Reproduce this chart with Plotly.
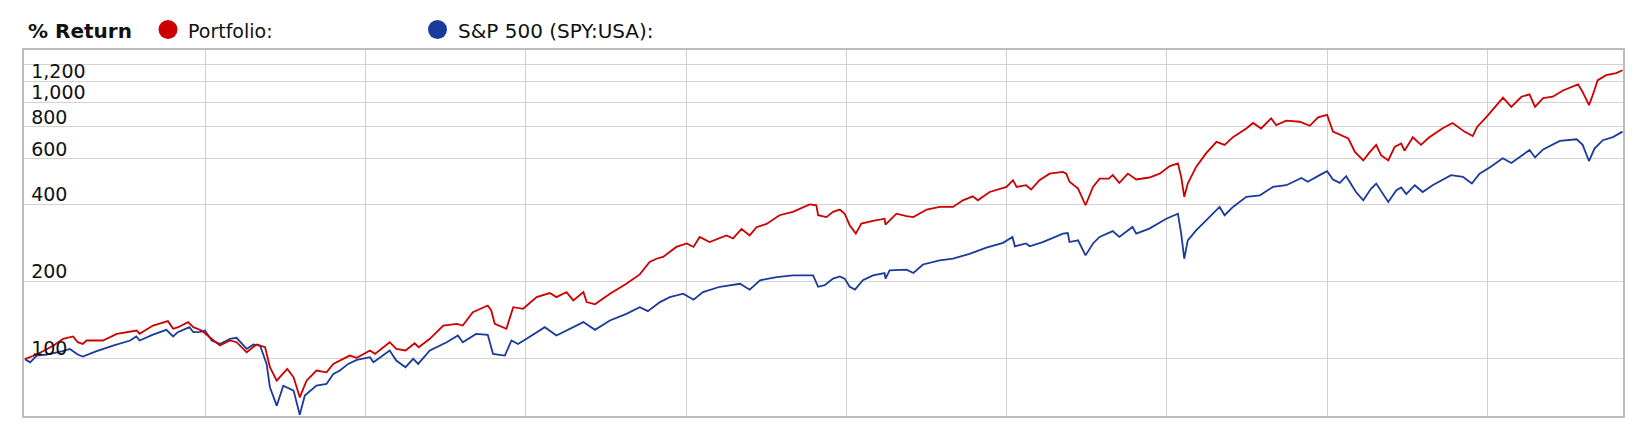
import plotly.graph_objects as go

# ---------------- data ----------------
spy_dates = [
    "2005-09-30", "2005-10-24", "2005-11-23", "2006-01-08", "2006-03-23", "2006-04-23", "2006-05-29",
    "2006-06-21", "2006-08-23", "2006-11-06", "2007-01-23", "2007-02-20", "2007-03-07", "2007-05-07",
    "2007-07-07", "2007-08-07", "2007-08-28", "2007-10-20", "2007-11-07", "2007-12-07", "2007-12-30",
    "2008-01-30", "2008-03-07", "2008-04-22", "2008-05-22", "2008-07-07", "2008-08-07", "2008-09-06",
    "2008-10-06", "2008-10-21", "2008-11-21", "2008-12-21", "2009-02-06", "2009-03-06", "2009-03-29",
    "2009-05-21", "2009-07-06", "2009-08-06", "2009-09-05", "2009-10-13", "2009-11-21", "2010-01-20",
    "2010-02-05", "2010-04-20", "2010-05-20", "2010-07-01", "2010-08-05", "2010-08-28", "2010-10-20",
    "2011-01-05", "2011-02-25", "2011-03-19", "2011-05-19", "2011-07-11", "2011-08-04", "2011-09-27",
    "2011-10-27", "2011-11-26", "2012-01-04", "2012-02-19", "2012-03-27", "2012-05-19", "2012-07-20",
    "2012-09-19", "2012-11-11", "2013-01-18", "2013-04-03", "2013-06-03", "2013-07-10", "2013-09-03",
    "2013-10-18", "2013-12-18", "2014-02-03", "2014-03-18", "2014-06-03", "2014-09-03", "2014-10-17",
    "2014-12-03", "2015-02-17", "2015-05-02", "2015-08-02", "2015-08-25", "2015-09-24", "2015-11-01",
    "2015-12-02", "2015-12-24", "2016-01-16", "2016-02-09", "2016-03-16", "2016-05-01", "2016-06-23",
    "2016-06-27", "2016-07-16", "2016-10-01", "2016-11-01", "2016-12-15", "2017-03-01", "2017-05-01",
    "2017-07-15", "2017-09-30", "2017-12-15", "2018-01-27", "2018-02-07", "2018-03-30", "2018-04-15",
    "2018-06-14", "2018-09-14", "2018-10-06", "2018-10-14", "2018-11-22", "2018-12-26", "2019-01-29",
    "2019-02-28", "2019-04-29", "2019-05-29", "2019-07-28", "2019-08-14", "2019-10-13", "2019-12-29",
    "2020-02-20", "2020-03-06", "2020-03-20", "2020-04-05", "2020-05-13", "2020-06-28", "2020-08-28",
    "2020-09-20", "2020-10-28", "2020-12-28", "2021-02-28", "2021-04-28", "2021-06-28", "2021-09-05",
    "2021-10-04", "2021-11-27", "2021-12-31", "2022-01-27", "2022-02-27", "2022-03-28", "2022-05-12",
    "2022-06-14", "2022-07-20", "2022-08-12", "2022-09-12", "2022-10-06", "2022-11-12", "2022-12-04",
    "2022-12-27", "2023-02-04", "2023-03-12", "2023-04-26", "2023-07-19", "2023-09-11", "2023-10-22",
    "2023-11-26", "2024-01-11", "2024-03-11", "2024-04-19", "2024-07-11", "2024-08-05", "2024-09-11",
    "2024-11-26", "2025-02-11", "2025-03-10", "2025-04-08", "2025-05-03", "2025-06-10", "2025-07-26",
    "2025-09-08",
]
spy_values = [
    99.5, 96.7, 102.7, 103.7, 106.8, 109.0, 103.7,
    101.8, 106.8, 112.4, 117.6, 121.9, 117.6, 124.0,
    129.4, 121.9, 126.7, 132.5, 126.7, 127.0, 128.6,
    117.6, 114.0, 119.4, 120.5, 109.0, 113.4, 112.4,
    95.3, 77.3, 65.5, 78.4, 75.0, 60.4, 71.7,
    78.4, 79.6, 87.1, 89.8, 95.3, 98.8, 101.2,
    96.7, 107.5, 98.2, 92.5, 99.7, 95.3, 107.5,
    115.8, 123.0, 115.8, 124.8, 123.7, 104.3, 102.7,
    117.6, 114.0, 119.4, 126.7, 132.5, 123.0, 130.6,
    138.7, 129.4, 140.7, 149.4, 158.6, 153.0, 166.0,
    173.6, 179.0, 169.5, 181.6, 190.5, 195.7, 185.6,
    201.9, 207.9, 211.0, 211.0, 190.5, 193.1, 205.0,
    209.0, 205.0, 190.5, 185.6, 201.9, 211.0, 215.5,
    205.0, 220.6, 222.0, 215.5, 232.7, 241.6, 245.0,
    256.0, 270.8, 282.5, 297.7, 273.9, 280.9, 274.0,
    284.6, 307.0, 308.5, 284.6, 289.0, 252.5, 281.0,
    298.0, 314.0, 298.0, 326.0, 307.0, 321.0, 351.0,
    367.0, 307.0, 245.0, 289.0, 316.0, 346.0, 390.0,
    362.0, 390.0, 427.0, 433.0, 467.0, 474.0, 506.0,
    489.0, 519.0, 538.0, 499.0, 484.0, 514.0, 446.0,
    414.0, 460.0, 481.0, 440.0, 408.0, 453.0, 465.0,
    438.0, 474.0, 446.0, 474.0, 519.0, 511.0, 481.0,
    526.0, 556.0, 604.0, 579.0, 650.0, 608.0, 654.0,
    706.0, 716.0, 681.0, 589.0, 659.0, 710.0, 730.0,
    767.0,
]

portfolio_dates = [
    "2005-09-30", "2005-11-23", "2006-02-08", "2006-03-23", "2006-05-08", "2006-05-29", "2006-06-21",
    "2006-07-08", "2006-09-21", "2006-11-23", "2007-02-22", "2007-03-07", "2007-05-07", "2007-07-14",
    "2007-08-07", "2007-08-30", "2007-10-14", "2007-11-07", "2007-12-14", "2008-01-30", "2008-03-07",
    "2008-04-22", "2008-05-22", "2008-07-07", "2008-08-21", "2008-09-29", "2008-10-21", "2008-11-21",
    "2009-01-08", "2009-02-06", "2009-03-06", "2009-04-06", "2009-05-21", "2009-07-06", "2009-08-06",
    "2009-09-20", "2009-10-20", "2009-11-21", "2010-01-20", "2010-02-12", "2010-04-20", "2010-05-20",
    "2010-07-01", "2010-08-12", "2010-08-30", "2010-10-20", "2010-12-20", "2011-02-20", "2011-03-19",
    "2011-05-04", "2011-07-11", "2011-07-27", "2011-08-12", "2011-10-04", "2011-11-04", "2011-12-19",
    "2012-02-19", "2012-04-19", "2012-05-19", "2012-07-04", "2012-08-04", "2012-09-19", "2012-10-04",
    "2012-11-11", "2013-01-18", "2013-04-03", "2013-06-03", "2013-07-18", "2013-08-18", "2013-09-17",
    "2013-10-18", "2013-11-17", "2014-01-03", "2014-02-03", "2014-03-03", "2014-04-17", "2014-07-03",
    "2014-08-02", "2014-09-10", "2014-10-17", "2014-11-17", "2015-01-02", "2015-03-02", "2015-05-02",
    "2015-07-17", "2015-08-17", "2015-08-25", "2015-10-02", "2015-11-01", "2015-12-02", "2015-12-24",
    "2016-01-16", "2016-02-13", "2016-03-09", "2016-05-01", "2016-06-23", "2016-06-27", "2016-08-16",
    "2016-10-01", "2016-11-01", "2017-01-01", "2017-03-01", "2017-05-01", "2017-06-15", "2017-07-30",
    "2017-08-22", "2017-10-15", "2017-12-31", "2018-01-29", "2018-02-15", "2018-03-30", "2018-04-22",
    "2018-05-30", "2018-07-15", "2018-09-14", "2018-09-29", "2018-10-14", "2018-11-22", "2018-12-26",
    "2019-01-29", "2019-02-28", "2019-04-11", "2019-04-29", "2019-05-29", "2019-07-07", "2019-08-14",
    "2019-10-13", "2019-11-29", "2020-01-14", "2020-02-20", "2020-03-06", "2020-03-20", "2020-04-05",
    "2020-05-13", "2020-06-28", "2020-08-14", "2020-09-20", "2020-10-28", "2020-12-28", "2021-01-28",
    "2021-03-05", "2021-04-20", "2021-05-13", "2021-06-28", "2021-08-28", "2021-10-13", "2021-11-20",
    "2021-12-31", "2022-01-27", "2022-02-27", "2022-04-07", "2022-05-07", "2022-06-14", "2022-07-10",
    "2022-08-12", "2022-09-03", "2022-10-06", "2022-11-04", "2022-12-04", "2022-12-19", "2023-01-26",
    "2023-03-04", "2023-04-11", "2023-06-11", "2023-07-26", "2023-09-18", "2023-10-26", "2023-11-15",
    "2023-12-28", "2024-02-12", "2024-03-12", "2024-04-19", "2024-06-04", "2024-07-11", "2024-08-05",
    "2024-09-11", "2024-10-25", "2024-12-10", "2025-02-17", "2025-03-10", "2025-04-08", "2025-04-25",
    "2025-05-17", "2025-06-25", "2025-08-10", "2025-09-08",
]
portfolio_values = [
    99.5, 103.7, 112.4, 119.4, 121.9, 115.8, 114.0,
    117.6, 117.6, 124.8, 128.6, 124.8, 134.5, 139.9,
    130.6, 132.5, 138.7, 132.5, 128.6, 119.4, 112.4,
    117.6, 115.8, 105.8, 113.4, 110.7, 92.5, 82.0,
    91.1, 84.5, 70.6, 82.0, 89.8, 88.4, 95.3,
    99.7, 102.7, 100.6, 107.5, 104.3, 115.8, 109.0,
    107.5, 114.7, 110.7, 119.4, 134.5, 136.6, 134.5,
    151.7, 161.0, 154.0, 136.6, 130.6, 158.6, 156.3,
    173.6, 180.0, 173.6, 181.6, 168.6, 181.6, 166.1,
    162.8, 179.0, 195.7, 212.8, 237.8, 245.0, 248.9,
    260.3, 272.4, 280.9, 272.4, 297.7, 284.6, 302.2,
    293.9, 320.0, 302.0, 325.0, 335.0, 362.0, 373.0,
    399.0, 396.0, 362.0, 356.0, 373.0, 381.0, 367.0,
    331.0, 307.0, 336.0, 344.0, 351.0, 333.0, 367.0,
    359.0, 356.0, 381.0, 390.0, 390.0, 414.0, 429.0,
    414.0, 446.0, 467.0, 496.0, 467.0, 474.0, 456.0,
    496.0, 526.0, 534.0, 526.0, 489.0, 460.0, 396.0,
    467.0, 503.0, 503.0, 519.0, 484.0, 526.0, 499.0,
    508.0, 526.0, 563.0, 577.0, 511.0, 427.0, 481.0,
    559.0, 632.0, 700.0, 681.0, 730.0, 789.0, 829.0,
    789.0, 864.0, 813.0, 846.0, 838.0, 808.0, 872.0,
    891.0, 767.0, 744.0, 721.0, 639.0, 592.0, 632.0,
    681.0, 621.0, 592.0, 668.0, 689.0, 646.0, 729.0,
    681.0, 729.0, 791.0, 829.0, 767.0, 737.0, 800.0,
    875.0, 973.0, 1040.0, 958.0, 1049.0, 1072.0, 958.0,
    1036.0, 1049.0, 1110.0, 1172.0, 1095.0, 973.0, 1064.0,
    1215.0, 1273.0, 1297.0, 1330.0,
]

y_tickvals = [100, 200, 400, 600, 800, 1000, 1200, 1400]
y_ticktext = ["100", "200", "400", "600", "800", "1,000", "1,200", ""]

series_names = ["Portfolio:", "S&P 500 (SPY:USA):"]
header_text = "% Return"

RED = "#CC0000"
BLUE = "#1A3A9C"
FONT = "DejaVu Sans"
TXT = "#111111"

fig = go.Figure()
fig.add_trace(go.Scatter(x=spy_dates, y=spy_values, mode="lines", name=series_names[1],
                         line=dict(color=BLUE, width=1.8), showlegend=False))
fig.add_trace(go.Scatter(x=portfolio_dates, y=portfolio_values, mode="lines", name=series_names[0],
                         line=dict(color=RED, width=1.8), showlegend=False))

W, H = 1650, 436
ML, MR, MT, MB = 24, 27, 50, 20
pw, ph = W - ML - MR, H - MT - MB


def px(xp):
    return (xp - ML) / pw


def py(yp):
    return (H - MB - yp) / ph


fig.update_layout(
    width=W, height=H,
    margin=dict(l=ML, r=MR, t=MT, b=MB),
    paper_bgcolor="white", plot_bgcolor="white",
    font=dict(family=FONT, size=19, color=TXT),
    xaxis=dict(
        type="date", range=["2005-09-26", "2025-09-10"],
        tick0="2006-01-01", dtick="M24", showticklabels=False, ticks="",
        showgrid=True, gridcolor="#cfcfcf", gridwidth=1,
        showline=True, linecolor="#bdbdbd", linewidth=2, mirror=True, zeroline=False,
    ),
    yaxis=dict(
        type="log", range=[1.776, 3.203],
        tickmode="array", tickvals=y_tickvals, ticktext=y_ticktext,
        ticklabelposition="inside", ticklabelshift=-10, ticklabelstandoff=8, ticks="",
        tickfont=dict(family=FONT, size=19, color=TXT),
        showgrid=True, gridcolor="#d3d3d3", gridwidth=1,
        showline=True, linecolor="#bdbdbd", linewidth=2, mirror=True, zeroline=False,
    ),
    hovermode=False,
)

# header / legend row
fig.add_annotation(xref="paper", yref="paper", x=px(26), y=py(31), xanchor="left", yanchor="middle",
                   text="<b>" + header_text + "</b>", showarrow=False,
                   font=dict(family=FONT, size=20, color=TXT))
fig.add_annotation(xref="paper", yref="paper", x=px(186), y=py(31), xanchor="left", yanchor="middle",
                   text=series_names[0], showarrow=False, font=dict(family=FONT, size=19, color=TXT))
fig.add_annotation(xref="paper", yref="paper", x=px(456), y=py(31), xanchor="left", yanchor="middle",
                   text=series_names[1], showarrow=False, font=dict(family=FONT, size=20, color=TXT))
for cx, col in [(168, RED), (437.5, BLUE)]:
    fig.add_shape(type="circle", xref="paper", yref="paper", xsizemode="pixel", ysizemode="pixel",
                  xanchor=px(cx), yanchor=py(29.5), x0=-9.5, x1=9.5, y0=-9.5, y1=9.5,
                  fillcolor=col, line=dict(width=0))

fig.write_html("out.html", config={"displayModeBar": False},
               post_script="document.body.style.margin='0';")
